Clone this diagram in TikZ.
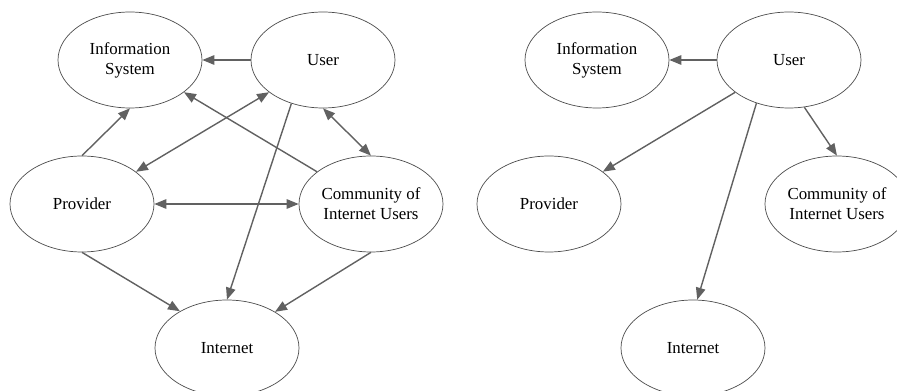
\documentclass[tikz,border=0pt]{standalone}
\usepackage{fontspec}
\setmainfont{Liberation Serif}
\usetikzlibrary{shapes.geometric,arrows.meta}
\begin{document}
\begin{tikzpicture}[
    ent/.style={ellipse,draw=black!70,line width=0.4pt,inner sep=0pt,minimum width=2.88cm,minimum height=1.92cm,align=center,font=\fontsize{9.6}{11.4}\selectfont},
    flow/.style={draw=black!62,line width=0.8pt,-{Triangle[length=2.4mm,width=1.9mm]}},
    both/.style={flow,{Triangle[length=2.4mm,width=1.9mm]}-{Triangle[length=2.4mm,width=1.9mm]}}]
    \useasboundingbox (0,0) rectangle (17.94,7.82);
    % left picture
    \node[ent] (infoL) at (2.60,6.62) {Information\\System};
    \node[ent] (userL) at (6.46,6.62) {User};
    \node[ent] (provL) at (1.64,3.74) {Provider};
    \node[ent] (commL) at (7.42,3.74) {Community of\\Internet Users};
    \node[ent] (netL) at (4.54,0.86) {Internet};
    \draw[flow] (userL) -- (infoL);
    \draw[flow] (provL.north) -- (infoL.south);
    \draw[both] (provL) -- (userL);
    \draw[flow] (commL) -- (infoL);
    \draw[both] (userL.south) -- (commL.north);
    \draw[flow] (userL.234) -- (netL.north);
    \draw[both] (provL) -- (commL);
    \draw[flow] (provL.south) -- (netL.142);
    \draw[flow] (commL.south) -- (netL.37);
    % right picture
    \node[ent] (infoR) at (11.94,6.62) {Information\\System};
    \node[ent] (userR) at (15.78,6.62) {User};
    \node[ent] (provR) at (10.98,3.74) {Provider};
    \node[ent] (commR) at (16.74,3.74) {Community of\\Internet Users};
    \node[ent] (netR) at (13.86,0.86) {Internet};
    \draw[flow] (userR) -- (infoR);
    \draw[flow] (userR) -- (provR);
    \draw[flow] (userR.288) -- (commR.north);
    \draw[flow] (userR.233) -- (netR.85);
\end{tikzpicture}
\end{document}
